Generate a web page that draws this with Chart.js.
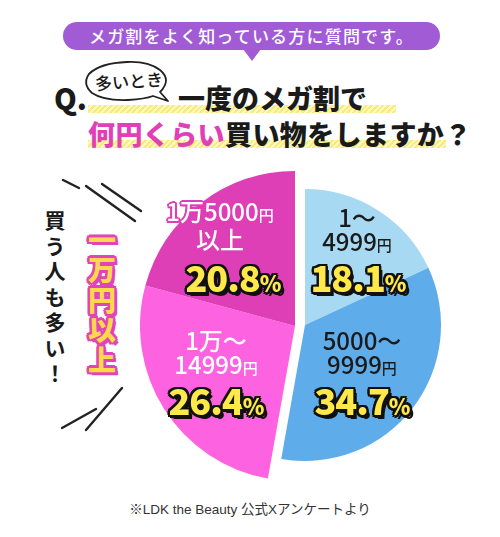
<!DOCTYPE html>
<html><head><meta charset="utf-8">
<script src="https://cdn.jsdelivr.net/npm/chart.js@4.4.1/dist/chart.umd.min.js"></script>
<style>
html,body{margin:0;padding:0;background:#fff;}
#stage{position:relative;width:500px;height:537px;overflow:hidden;font-family:"Noto Sans CJK JP","Noto Sans",sans-serif;}
.abs{position:absolute;white-space:nowrap;}
#banner{left:63px;top:22px;width:377px;height:28px;border-radius:14px;background:#a05bd5;color:#fff;font-size:17px;font-weight:500;line-height:28px;text-align:center;letter-spacing:1.2px;}
#tri{left:243px;top:49px;width:0;height:0;border-left:9px solid transparent;border-right:9px solid transparent;border-top:12px solid #a05bd5;}
.hl{height:8px;background:repeating-linear-gradient(135deg,#f7ec7a 0 2px,#fdf7c4 2px 4px);}
.title{font-size:27px;font-weight:900;line-height:27px;color:#1a1a1a;}
.mag{color:#e03fb6;}
#q{left:54px;top:83px;font-size:29px;font-weight:900;line-height:29px;color:#1a1a1a;font-family:"Noto Sans CJK JP",sans-serif;}
canvas{position:absolute;}
.rng{font-size:24px;font-weight:500;line-height:24px;text-align:center;transform:translateX(-50%);}
.rng .en{font-size:15px;}
.outl{text-shadow:-1.5px -1.5px 0 #de3fb6,1.5px -1.5px 0 #de3fb6,-1.5px 1.5px 0 #de3fb6,1.5px 1.5px 0 #de3fb6,0 -2px 0 #de3fb6,0 2px 0 #de3fb6,-2px 0 0 #de3fb6,2px 0 0 #de3fb6;}
.pct{font-size:36px;font-weight:900;line-height:36px;letter-spacing:-1px;color:#ffe84a;transform:translateX(-50%);
 text-shadow:-2px -2px 0 #111,2px -2px 0 #111,-2px 2px 0 #111,2px 2px 0 #111,0 -2.5px 0 #111,0 2.5px 0 #111,-2.5px 0 0 #111,2.5px 0 0 #111,3.5px 3.5px 0 #111;}
.pct .p{font-size:22px;}
.vert{writing-mode:vertical-rl;}
#big{left:86px;top:226px;font-size:28px;font-weight:900;line-height:32px;letter-spacing:2px;color:#ffd94a;
 text-shadow:-2px -2px 0 #e044b8,2px -2px 0 #e044b8,-2px 2px 0 #e044b8,2px 2px 0 #e044b8,0 -2.5px 0 #e044b8,0 2.5px 0 #e044b8,-2.5px 0 0 #e044b8,2.5px 0 0 #e044b8,3px 3px 0 #e044b8;}
#buy{left:44px;top:210px;font-size:21px;font-weight:700;line-height:22px;letter-spacing:4.5px;color:#1a1a1a;}
#foot{left:0;width:500px;top:498px;text-align:center;font-size:13.5px;color:#333;font-family:"Liberation Sans","Noto Sans CJK JP",sans-serif;}
</style></head>
<body>
<div id="stage">
<svg class="abs" style="left:0;top:0" width="500" height="537">
  <g stroke="#222" stroke-width="2.4" stroke-linecap="round" fill="none">
    <line x1="63" y1="180" x2="79" y2="188"/>
    <line x1="86" y1="186" x2="135" y2="221"/>
    <line x1="102" y1="184" x2="141" y2="211"/>
    <line x1="62" y1="428" x2="96" y2="409"/>
    <line x1="86" y1="430" x2="122" y2="388"/>
  </g>
  <path d="M 160 92 Q 172 80 160 70 Q 148 61 127 62 Q 100 63 89 74 Q 82 84 92 93 Q 104 101 128 100 Q 145 99 153 96 L 168 101 Z" fill="#fff" stroke="#222" stroke-width="1.8" stroke-linejoin="round"/>
  <text x="129" y="88" text-anchor="middle" font-family="Noto Sans CJK JP" font-weight="500" font-size="17" fill="#1a1a1a" transform="rotate(-4 129 82)">多いとき</text>
</svg>
<div id="banner" class="abs">メガ割をよく知っている方に質問です。</div>
<div id="tri" class="abs"></div>
<div class="abs hl" style="left:88px;top:105px;width:308px;"></div>
<div class="abs hl" style="left:88px;top:140px;width:358px;"></div>
<div id="q" class="abs">Q.</div>
<div class="abs title" style="left:178px;top:84px;">一度のメガ割で</div>
<div class="abs title" style="left:88px;top:120px;letter-spacing:0.4px;"><span class="mag">何円くらい</span>買い物をしますか？</div>
<canvas id="cLeft" width="310" height="310" style="left:140px;top:171px;"></canvas>
<canvas id="cRight" width="272" height="272" style="left:169px;top:189px;"></canvas>
<div id="labels"></div>
<div id="big" class="abs vert">一万円以上</div>
<div id="buy" class="abs vert">買う人も多い！</div>
<div id="foot" class="abs">※LDK the Beauty 公式Xアンケートより</div>
</div>
<script>
const categories = ['1～4999円', '5000～9999円', '1万～14999円', '1万5000円以上'];
const labelLines = [['1～', '4999円'], ['5000～', '9999円'], ['1万～', '14999円'], ['1万5000円', '以上']];
const values = [18.1, 34.7, 26.4, 20.8];
const sliceColors = ['#a8d9f2', '#5eadea', '#fd63e1', '#de3fb6'];
const rightGroup = [0, 1];
const leftGroup = [2, 3];

function makePie(id, group) {
  const bg = sliceColors.map((c, i) => group.includes(i) ? c : 'rgba(0,0,0,0)');
  return new Chart(document.getElementById(id), {
    type: 'pie',
    data: { labels: categories, datasets: [{ data: values, backgroundColor: bg, borderWidth: 0, hoverOffset: 0 }] },
    options: {
      responsive: false, animation: false, devicePixelRatio: 1,
      layout: { padding: 0 },
      plugins: { legend: { display: false }, tooltip: { enabled: false } },
      events: []
    }
  });
}
makePie('cLeft', leftGroup);
makePie('cRight', rightGroup);

const labelStyle = [
  { cx: 357, top: 205, pcx: 358, ptop: 258, color: '#1a1a1a', outline: false },
  { cx: 362, top: 328, pcx: 362, ptop: 381, color: '#1a1a1a', outline: false },
  { cx: 216, top: 328, pcx: 216, ptop: 381, color: '#ffffff', outline: false },
  { cx: 220, top: 199, pcx: 233, ptop: 258, color: '#ffffff', outline: true }
];
const host = document.getElementById('labels');
values.forEach((v, i) => {
  const s = labelStyle[i];
  const r = document.createElement('div');
  r.className = 'abs rng' + (s.outline ? ' outl' : '');
  r.style.left = s.cx + 'px'; r.style.top = s.top + 'px'; r.style.color = s.color;
  r.innerHTML = labelLines[i].map(t => t.replace('円', '<span class="en">円</span>')).join('<br>');
  host.appendChild(r);
  const p = document.createElement('div');
  p.className = 'abs pct';
  p.style.left = s.pcx + 'px'; p.style.top = s.ptop + 'px';
  p.innerHTML = v.toFixed(1) + '<span class="p">%</span>';
  host.appendChild(p);
});
</script>
</body></html>
